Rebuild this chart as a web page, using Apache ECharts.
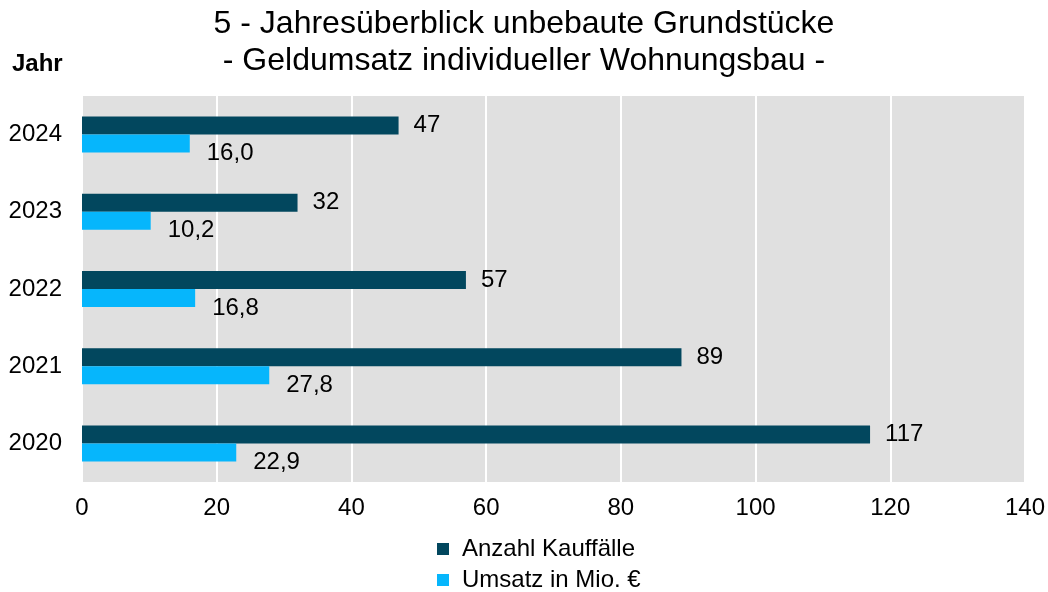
<!DOCTYPE html>
<html>
<head>
<meta charset="utf-8">
<script src="https://cdn.jsdelivr.net/npm/echarts@6/dist/echarts.min.js"></script>
<style>
  html, body { margin: 0; padding: 0; background: #fff; }
  #chart { width: 1048px; height: 592px; }
</style>
</head>
<body>
<div id="chart"></div>
<script>
// Daten
var jahre = ['2024', '2023', '2022', '2021', '2020']
var anzahlKauffaelle = [47, 32, 57, 89, 117]
var umsatzMio = [16.0, 10.2, 16.8, 27.8, 22.9]
var xTicks = [0, 140, 20]
var serienNamen = ['Anzahl Kauffälle', 'Umsatz in Mio. €']

var font = 'Liberation Sans, Arial, sans-serif'
var echart = echarts.init(document.getElementById('chart'))

var legendBase = {
    left: 437,
    padding: 0,
    itemWidth: 12,
    itemHeight: 12,
    icon: 'rect',
    selectedMode: false,
    textStyle: { fontFamily: font, fontSize: 24, color: '#000', padding: [0, 0, 0, 8] }
}

var option = {
    animation: false,
    textStyle: { fontFamily: font },
    title: [{
        text: '5 - Jahresüberblick unbebaute Grundstücke\n- Geldumsatz individueller Wohnungsbau -',
        left: 519,
        top: 1,
        textAlign: 'center',
        textStyle: {
            fontFamily: font,
            fontSize: 32,
            fontWeight: 'normal',
            color: '#000',
            lineHeight: 37
        }
    }, {
        text: 'Jahr',
        left: 7,
        top: 47,
        textStyle: {
            fontFamily: font,
            fontSize: 24,
            fontWeight: 'bold',
            color: '#000'
        }
    }],
    legend: [
        Object.assign({}, legendBase, { top: 537, data: [serienNamen[0]] }),
        Object.assign({}, legendBase, { top: 568, data: [serienNamen[1]] })
    ],
    grid: {
        left: 82,
        right: 23,
        top: 96,
        bottom: 110,
        show: true,
        backgroundColor: '#e0e0e0',
        borderWidth: 0
    },
    xAxis: {
        type: 'value',
        min: xTicks[0],
        max: xTicks[1],
        interval: xTicks[2],
        axisLine: { show: false },
        axisTick: { show: false },
        splitLine: { show: true, lineStyle: { color: '#fff', width: 2 } },
        axisLabel: { fontSize: 24, color: '#000', margin: 14, fontFamily: font }
    },
    yAxis: {
        type: 'category',
        inverse: true,
        data: jahre,
        axisLine: { show: false },
        axisTick: { show: false },
        axisLabel: { fontSize: 24, color: '#000', margin: 20, fontFamily: font }
    },
    series: [{
        name: serienNamen[0],
        type: 'bar',
        barWidth: 18,
        barGap: '0%',
        itemStyle: { color: '#02475e' },
        label: {
            show: true,
            position: 'right',
            distance: 15,
            fontSize: 24,
            color: '#000',
            fontFamily: font
        },
        data: anzahlKauffaelle
    }, {
        name: serienNamen[1],
        type: 'bar',
        barWidth: 18,
        barGap: '0%',
        itemStyle: { color: '#06b6fc' },
        label: {
            show: true,
            position: 'right',
            distance: 17,
            offset: [0, 10],
            fontSize: 24,
            color: '#000',
            fontFamily: font,
            formatter: function (p) { return p.value.toFixed(1).replace('.', ',') }
        },
        data: umsatzMio
    }]
}
echart.setOption(option)
</script>
</body>
</html>
